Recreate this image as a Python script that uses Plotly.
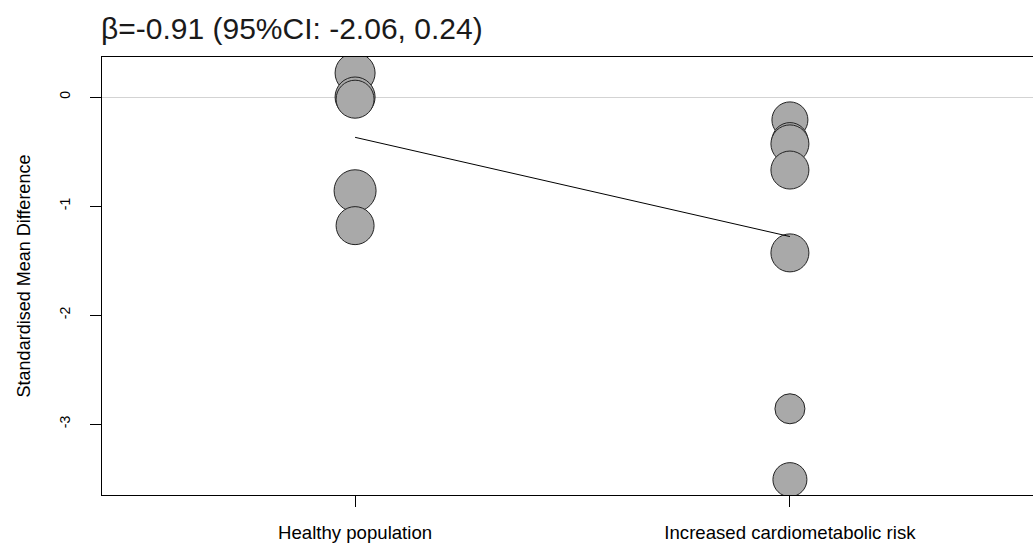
import plotly.graph_objects as go

categories = ["Healthy population", "Increased cardiometabolic risk"]
cat_pos = [0, 1]

healthy_smd = [0.22, 0.0, -0.02, -0.86, -1.18]
healthy_size = [40, 40, 38, 42, 38]
risk_smd = [-0.21, -0.40, -0.43, -0.67, -1.43, -2.86, -3.51]
risk_size = [36, 36, 38, 38, 38, 30, 34]

intercept = -0.37
beta = -0.91
title_text = "β=-0.91 (95%CI: -2.06, 0.24)"
y_ticks = [0, -1, -2, -3]

font_family = "Liberation Sans, Arial, sans-serif"

fig = go.Figure()

xs = [cat_pos[0]] * len(healthy_smd) + [cat_pos[1]] * len(risk_smd)
ys = healthy_smd + risk_smd
sizes = healthy_size + risk_size

fig.add_trace(go.Scatter(
    x=xs, y=ys, mode="markers",
    marker=dict(size=sizes, color="#a9a9a9", opacity=1, line=dict(color="#222222", width=1)),
    showlegend=False, hoverinfo="skip",
))

fig.add_trace(go.Scatter(
    x=cat_pos, y=[intercept + beta * p for p in cat_pos], mode="lines",
    line=dict(color="black", width=1), showlegend=False, hoverinfo="skip",
))

fig.update_layout(
    width=1033, height=549,
    margin=dict(l=102, r=0, t=57, b=54, autoexpand=False),
    paper_bgcolor="white", plot_bgcolor="white",
    font=dict(family=font_family, color="black"),
    title=dict(text=title_text, x=101 / 1033, xref="container", xanchor="left",
               y=1 - 28 / 549, yref="container", yanchor="middle", automargin=False,
               font=dict(size=30, color="#1a1a1a", family=font_family)),
)

fig.update_xaxes(
    range=[-0.582, 1.559], tickvals=cat_pos, ticktext=categories, automargin=False,
    showline=True, linecolor="black", linewidth=1, mirror=True,
    ticks="outside", ticklen=11, tickcolor="black", tickwidth=1,
    tickfont=dict(size=18.6, color="black"), ticklabelstandoff=10,
    showgrid=False, zeroline=False,
)

fig.update_yaxes(
    range=[-3.651, 0.367], tickvals=y_ticks, ticktext=[str(v) for v in y_ticks], automargin=False,
    showline=True, linecolor="black", linewidth=1, mirror=False,
    ticks="outside", ticklen=11, tickcolor="black", tickwidth=1,
    tickangle=-90, tickfont=dict(size=14, color="black"), ticklabelstandoff=14,
    showgrid=False, zeroline=True, zerolinecolor="#d3d3d3", zerolinewidth=1,
    title=dict(text="Standardised Mean Difference", font=dict(size=18, color="black"), standoff=22),
)

fig.write_html("out.html", config={"displayModeBar": False},
               post_script="document.body.style.margin='0';")
